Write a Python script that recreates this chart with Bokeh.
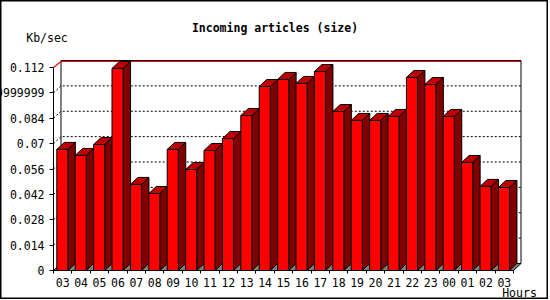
from bokeh.plotting import figure
from bokeh.models import Range1d, LinearAxis, FixedTicker, Label
from bokeh.embed import file_html
from bokeh.resources import INLINE

# ---------------- data ----------------
hours = ["03", "04", "05", "06", "07", "08", "09", "10", "11", "12", "13", "14",
         "15", "16", "17", "18", "19", "20", "21", "22", "23", "00", "01", "02", "03"]
kb_sec = [0.0668, 0.0635, 0.0695, 0.1115, 0.0475, 0.0425, 0.0668, 0.0557, 0.0662,
          0.0728, 0.0855, 0.1015, 0.1054, 0.1032, 0.1098, 0.0877, 0.0828, 0.0828,
          0.0850, 0.1065, 0.1026, 0.0850, 0.0596, 0.0464, 0.0458]
y_ticks = [0, 0.014, 0.028, 0.042, 0.056, 0.07, 0.084, 0.098, 0.112]
y_tick_labels = ["0", "0.014", "0.028", "0.042", "0.056", "0.07", "0.084",
                 "0.09799999999999999", "0.112"]
title_text = "Incoming articles (size)"
y_unit = "Kb/sec"
x_unit = "Hours"

# ---------------- layout / style ----------------
W, H = 548, 299
X0, Y0 = 53, 270          # pixel position of the data origin (front corner)
CAT_PX = 18.4             # pixels per category
VAL_PX = 1812.5           # pixels per unit of value
DX = 7.5 / CAT_PX         # 3-D depth, in data units
DY = 7.0 / VAL_PX
BAR_L, BAR_R = 0.18, 0.78
FONT = "DejaVu Sans Mono"
FSIZE = "11.5px"

n = len(kb_sec)
ymax = y_ticks[-1]


def px_x(px):
    return (px - X0) / CAT_PX


def px_y(py):
    return (Y0 - py) / VAL_PX


p = figure(width=W, height=H, output_backend="svg", toolbar_location=None,
           x_range=Range1d(px_x(0), px_x(W)), y_range=Range1d(px_y(H), px_y(0)),
           x_axis_type=None, y_axis_type=None, min_border=0, title=None)
p.outline_line_color = "black"
p.outline_line_width = 2
p.background_fill_color = "white"
p.border_fill_color = "white"

# back wall
p.quad(left=[DX], right=[n + DX], bottom=[DY], top=[ymax + DY],
       fill_color="white", line_color="black", line_width=1)

# dashed grid lines on back wall + diagonals to front axis
gx, gy = [], []
for t in y_ticks[1:-1]:
    gx.append([0, DX, n + DX])
    gy.append([t, t + DY, t + DY])
p.multi_line(gx, gy, line_color="black", line_width=1, line_dash="2 2")

# red max line
p.line([0, DX, n + DX], [ymax, ymax + DY - 1.0 / VAL_PX, ymax + DY - 1.0 / VAL_PX],
       line_color="#ff0000", line_width=1.2)

# floor
p.patch([0, n, n + DX, DX], [0, 0, DY, DY], fill_color="#808080",
        line_color="black", line_width=1)

lefts = [i + BAR_L for i in range(n)]
rights = [i + BAR_R for i in range(n)]

# sides
p.patches([[r, r + DX, r + DX, r] for r in rights],
          [[0, DY, v + DY, v] for v in kb_sec],
          fill_color="#800000", line_color="black", line_width=1)
# tops
p.patches([[l, r, r + DX, l + DX] for l, r in zip(lefts, rights)],
          [[v, v, v + DY, v + DY] for v in kb_sec],
          fill_color="#c00000", line_color="black", line_width=1)
# fronts
p.quad(left=lefts, right=rights, bottom=0, top=kb_sec,
       fill_color="#ff0000", line_color="black", line_width=1)

# axes
yaxis = LinearAxis(fixed_location=0, bounds=(0, ymax),
                   ticker=FixedTicker(ticks=y_ticks),
                   major_label_overrides={t: s for t, s in zip(y_ticks, y_tick_labels)},
                   major_tick_in=0, major_tick_out=4, minor_tick_line_color=None,
                   major_label_standoff=5, axis_line_color="black",
                   major_label_text_font=FONT, major_label_text_font_size=FSIZE,
                   major_label_text_color="black")
p.add_layout(yaxis, "left")

centers = [i + 0.5 for i in range(n)]
xaxis = LinearAxis(fixed_location=0, bounds=(0, n),
                   ticker=FixedTicker(ticks=centers, minor_ticks=list(range(n + 1))),
                   major_label_overrides={c: h for c, h in zip(centers, hours)},
                   major_tick_line_color=None, major_tick_in=0, major_tick_out=0,
                   minor_tick_in=0, minor_tick_out=3, minor_tick_line_color="black",
                   major_label_standoff=4, axis_line_color="black",
                   major_label_text_font=FONT, major_label_text_font_size=FSIZE,
                   major_label_text_color="black")
p.add_layout(xaxis, "below")

# texts
p.add_layout(Label(x=px_x(274.5), y=px_y(27), text=title_text, text_align="center",
                   text_baseline="middle", text_font=FONT, text_font_size=FSIZE,
                   text_font_style="bold", text_color="black"))
p.add_layout(Label(x=px_x(46.5), y=px_y(37.5), text=y_unit, text_align="center",
                   text_baseline="middle", text_font=FONT, text_font_size=FSIZE,
                   text_color="black"))
p.add_layout(Label(x=px_x(519), y=px_y(292), text=x_unit, text_align="center",
                   text_baseline="middle", text_font=FONT, text_font_size=FSIZE,
                   text_color="black"))

open("out.html", "w").write(file_html(p, INLINE))
